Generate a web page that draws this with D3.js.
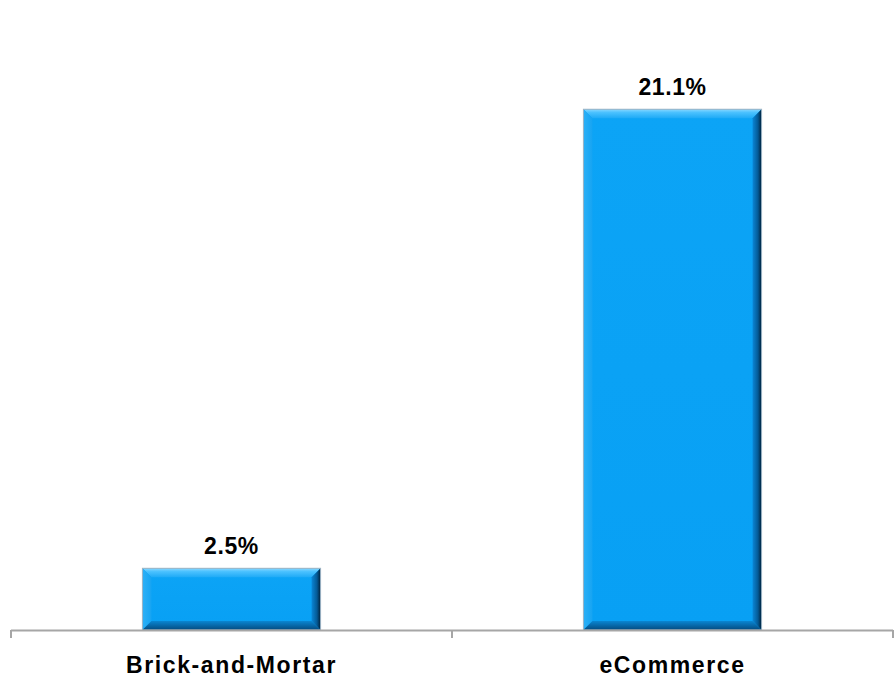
<!DOCTYPE html>
<html>
<head>
<meta charset="utf-8">
<script src="https://cdn.jsdelivr.net/npm/d3@7"></script>
<style>
  html, body { margin: 0; padding: 0; background: #ffffff; }
  svg { display: block; }
</style>
</head>
<body>
<svg id="chart" width="895" height="685"></svg>
<script>
const categories = ["Brick-and-Mortar", "eCommerce"];
const values = [2.5, 21.1];
const valueLabels = ["2.5%", "21.1%"];

const svg = d3.select("#chart");
const x = d3.scaleBand().domain(categories).range([11, 893]).paddingInner(0.596).paddingOuter(0.298);
const y = d3.scaleLinear().domain([0, 25]).range([630, 13]);

const defs = svg.append("defs");
function grad(id, x2, y2, stops) {
  const g = defs.append("linearGradient").attr("id", id)
    .attr("x1", 0).attr("y1", 0).attr("x2", x2).attr("y2", y2);
  stops.forEach(([o, c]) => g.append("stop").attr("offset", o).attr("stop-color", c));
}
grad("gFace", 0, 1, [[0, "#0ca4f6"], [1, "#08a0f4"]]);
grad("gTop", 0, 1, [[0, "#8ad8ff"], [0.35, "#4cc2ff"], [1, "#1eaaf6"]]);
grad("gLeft", 1, 0, [[0, "#2cb0f7"], [1, "#16a4f2"]]);
grad("gRight", 1, 0, [[0, "#0a86d6"], [0.6, "#045a96"], [1, "#001e36"]]);
grad("gBottom", 0, 1, [[0, "#0a86d2"], [1, "#034a80"]]);

const bw = 9;
const bars = svg.append("g").selectAll("g").data(categories).join("g");

bars.each(function(c, i) {
  const g = d3.select(this);
  const x0 = x(c), x1 = x(c) + x.bandwidth();
  const y0 = y(values[i]), y1 = y(0);
  g.append("rect").attr("x", x0).attr("y", y0).attr("width", x1 - x0).attr("height", y1 - y0)
    .attr("fill", "url(#gFace)");
  const poly = (pts, fill) => g.append("polygon")
    .attr("points", pts.map(p => p.join(",")).join(" ")).attr("fill", fill);
  poly([[x0, y0], [x1, y0], [x1 - bw, y0 + bw], [x0 + bw, y0 + bw]], "url(#gTop)");
  poly([[x0, y0], [x0 + bw, y0 + bw], [x0 + bw, y1 - bw], [x0, y1]], "url(#gLeft)");
  poly([[x1, y0], [x1, y1], [x1 - bw, y1 - bw], [x1 - bw, y0 + bw]], "url(#gRight)");
  poly([[x0, y1], [x0 + bw, y1 - bw], [x1 - bw, y1 - bw], [x1, y1]], "url(#gBottom)");
  g.append("rect").attr("x", x0).attr("y", y0).attr("width", x1 - x0).attr("height", y1 - y0)
    .attr("fill", "none").attr("stroke", "#9fb4c4").attr("stroke-width", 1);
  g.append("text")
    .attr("x", (x0 + x1) / 2).attr("y", y0 - 14)
    .attr("text-anchor", "middle")
    .attr("font-family", "Liberation Sans, Arial, sans-serif")
    .attr("font-weight", "bold").attr("font-size", 23)
    .attr("letter-spacing", 0.6)
    .attr("fill", "#000")
    .text(valueLabels[i]);
});

// axis
const axisG = svg.append("g");
axisG.append("line").attr("x1", x.range()[0]).attr("x2", x.range()[1])
  .attr("y1", y(0) + 0.5).attr("y2", y(0) + 0.5)
  .attr("stroke", "#a6a6a6").attr("stroke-width", 2);
const tickPos = [x.range()[0], (x(categories[0]) + x(categories[1]) + x.bandwidth()) / 2, x.range()[1]];
axisG.selectAll("line.tick").data(tickPos).join("line").attr("class", "tick")
  .attr("x1", d => d).attr("x2", d => d).attr("y1", y(0)).attr("y2", y(0) + 8)
  .attr("stroke", "#a6a6a6").attr("stroke-width", 2);
axisG.selectAll("text").data(categories).join("text")
  .attr("x", d => x(d) + x.bandwidth() / 2).attr("y", 673)
  .attr("text-anchor", "middle")
  .attr("font-family", "Liberation Sans, Arial, sans-serif")
  .attr("font-weight", "bold").attr("font-size", 23)
  .attr("letter-spacing", 1.6)
  .attr("fill", "#000")
  .text(d => d);
</script>
</body>
</html>
